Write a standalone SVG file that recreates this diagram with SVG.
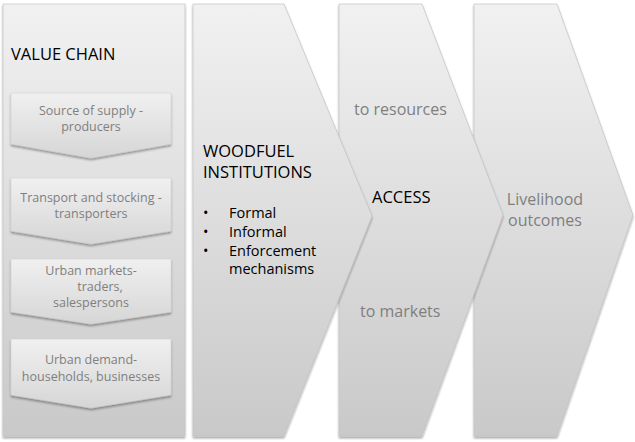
<svg xmlns="http://www.w3.org/2000/svg" width="635" height="442" viewBox="0 0 635 442">
  <defs>
    <linearGradient id="panelFill" x1="0" y1="0" x2="0" y2="1">
      <stop offset="0" stop-color="#f1f1f1"/>
      <stop offset="1" stop-color="#c9c9c9"/>
    </linearGradient>
    <linearGradient id="stepFill" x1="0" y1="0" x2="0" y2="1">
      <stop offset="0" stop-color="#f0f0f0"/>
      <stop offset="1" stop-color="#d6d6d6"/>
    </linearGradient>
    <filter id="shadow" x="-5%" y="-5%" width="110%" height="110%">
      <feDropShadow dx="0" dy="2" stdDeviation="1.2" flood-color="#000" flood-opacity="0.35"/>
    </filter>
  </defs>
  <style>
    .panel { fill: url(#panelFill); stroke: #c2c2c2; stroke-width: 0.7; filter: url(#shadow); }
    .step { fill: url(#stepFill); stroke: #cfcfcf; stroke-width: 0.5; filter: url(#shadow); }
    .head { font-family: "Open Sans", "Liberation Sans", sans-serif; font-size: 16.5px; fill: #000; }
    .item { font-family: "Open Sans", "Liberation Sans", sans-serif; font-size: 14.5px; fill: #000; }
    .grey { font-family: "Open Sans", "Liberation Sans", sans-serif; fill: #7f7f7f; }
    .stepText { font-size: 12.5px; text-anchor: middle; }
    .big { font-size: 16px; }
  </style>

  <!-- arrow panels, back to front -->
  <g id="livelihood">
    <polygon class="panel" points="474,4 557,4 633,215 557,436 474,436"/>
  </g>

  <g id="access">
    <polygon class="panel" points="339,4 422,4 503,215 422,436 339,436"/>
  </g>

  <g id="institutions">
    <polygon class="panel" points="193,4 284,4 372,216 284,436 193,436"/>
  </g>

  <!-- value chain container with its four steps -->
  <g id="value-chain">
    <rect class="panel" x="3" y="4" width="182" height="432"/>
    <text class="head" x="11" y="60">VALUE CHAIN</text>
  </g>

  <g id="step-producers">
    <polygon class="step" points="11,93 171,93 171,144 91,158 11,144"/>
    <text class="grey stepText" x="91" y="115">Source of supply -</text>
    <text class="grey stepText" x="91" y="131">producers</text>
  </g>

  <g id="step-transporters">
    <polygon class="step" points="11,178 171,178 171,231 91,244 11,231"/>
    <text class="grey stepText" x="91" y="202">Transport and stocking -</text>
    <text class="grey stepText" x="91" y="218">transporters</text>
  </g>

  <g id="step-traders">
    <polygon class="step" points="11,259 171,259 171,312 91,324 11,312"/>
    <text class="grey stepText" x="91" y="275">Urban markets-</text>
    <text class="grey stepText" x="100" y="291">traders,</text>
    <text class="grey stepText" x="91" y="307">salespersons</text>
  </g>

  <g id="step-demand">
    <polygon class="step" points="11,339 171,339 171,395 91,408 11,395"/>
    <text class="grey stepText" x="91" y="364">Urban demand-</text>
    <text class="grey stepText" x="91" y="381">households, businesses</text>
  </g>

  <!-- panel labels sit above every shape -->
  <g id="institutions-label">
    <text class="head" x="203" y="157">WOODFUEL</text>
    <text class="head" x="203" y="178">INSTITUTIONS</text>
    <text class="item" x="203" y="218">•</text>
    <text class="item" x="229" y="218">Formal</text>
    <text class="item" x="203" y="237">•</text>
    <text class="item" x="229" y="237">Informal</text>
    <text class="item" x="203" y="256">•</text>
    <text class="item" x="229" y="256">Enforcement</text>
    <text class="item" x="229" y="274">mechanisms</text>
  </g>

  <g id="access-label">
    <text class="grey big" x="354" y="115">to resources</text>
    <text class="head" x="372" y="203">ACCESS</text>
    <text class="grey big" x="360" y="317">to markets</text>
  </g>

  <g id="livelihood-label">
    <text class="grey big" x="545" y="205" text-anchor="middle">Livelihood</text>
    <text class="grey big" x="545" y="226" text-anchor="middle">outcomes</text>
  </g>

  <g id="connectors"/>
</svg>
